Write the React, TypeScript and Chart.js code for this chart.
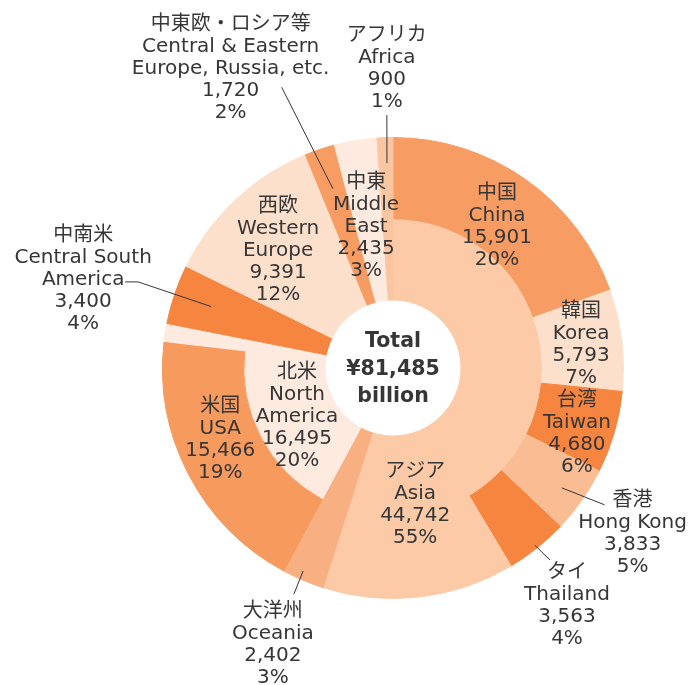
import React, { useEffect, useRef } from "react";
import { Chart, registerables } from "chart.js";

Chart.register(...registerables);

// Inner ring: regions (clockwise from 12 o'clock)
const regionJa = ["アジア", "大洋州", "北米", "中南米", "西欧", "中東欧・ロシア等", "中東", "アフリカ"];
const regionEn = [["Asia"], ["Oceania"], ["North", "America"], ["Central South", "America"], ["Western", "Europe"], ["Central & Eastern", "Europe, Russia, etc."], ["Middle", "East"], ["Africa"]];
const regionValues = [44742, 2402, 16495, 3400, 9391, 1720, 2435, 900];
const regionColors = ["#fccaa6", "#f8af82", "#feeadf", "#f5853f", "#fde0cc", "#f79c62", "#feeadf", "#fac6a2"];

// Outer ring: Asian countries
const asiaJa = ["中国", "韓国", "台湾", "香港", "タイ"];
const asiaEn = ["China", "Korea", "Taiwan", "Hong Kong", "Thailand"];
const asiaValues = [15901, 5793, 4680, 3833, 3563];
const asiaColors = ["#f79c62", "#fde0cc", "#f5853f", "#fabd93", "#f5853f"];

// Outer ring: North American country
const naJa = ["米国"];
const naEn = ["USA"];
const naValues = [15466];
const naColors = ["#f79a5e"];

const total = regionValues.reduce((a, b) => a + b, 0);
const fmt = (v: number) => v.toLocaleString("en-US");
const pct = (v: number) => Math.round((v / total) * 100) + "%";

// outer dataset: Asia countries + rest of Asia, Oceania, USA + rest of NA, then remaining regions
const otherAsia = regionValues[0] - asiaValues.reduce((a, b) => a + b, 0);
const otherNA = regionValues[2] - naValues.reduce((a, b) => a + b, 0);
const outerValues = [...asiaValues, otherAsia, regionValues[1], ...naValues, otherNA, ...regionValues.slice(3)];
const outerColors = [...asiaColors, regionColors[0], regionColors[1], ...naColors, regionColors[2], ...regionColors.slice(3)];

type Spec = {
  ds: number;
  idx: number;
  lines: string[];
  shift?: number;
  r?: number;
  leader?: { s1: number; r1: number; s2: number; r2: number; tail?: number; tx: number; ty: number };
};

const regionLines = (i: number) => [regionJa[i], ...regionEn[i], fmt(regionValues[i]), pct(regionValues[i])];
const asiaLines = (i: number) => [asiaJa[i], asiaEn[i], fmt(asiaValues[i]), pct(asiaValues[i])];
const naLines = (i: number) => [naJa[i], naEn[i], fmt(naValues[i]), pct(naValues[i])];

const specs: Spec[] = [
  { ds: 0, idx: 0, lines: asiaLines(0), shift: 1.2, r: 175.6 },
  { ds: 0, idx: 1, lines: asiaLines(1), shift: 0, r: 189.5 },
  { ds: 0, idx: 2, lines: asiaLines(2), shift: 3.6, r: 195.5 },
  { ds: 0, idx: 3, lines: asiaLines(3), leader: { s1: 0.4, r1: 207, s2: -2.1, r2: 252, tx: 28, ty: 29 } },
  { ds: 0, idx: 4, lines: asiaLines(4), leader: { s1: 0, r1: 227, s2: -0.6, r2: 248, tx: 17, ty: 46 } },
  { ds: 0, idx: 7, lines: naLines(0), shift: 5, r: 187 },
  { ds: 1, idx: 0, lines: regionLines(0), shift: 72, r: 139 },
  { ds: 1, idx: 1, lines: regionLines(1), leader: { s1: 0.9, r1: 222, s2: 0.7, r2: 247, tx: -21, ty: 51 } },
  { ds: 1, idx: 2, lines: regionLines(2), shift: -1.5, r: 107.6 },
  { ds: 1, idx: 3, lines: regionLines(3), leader: { s1: 0, r1: 192, s2: 0, r2: 269, tail: -13, tx: -42, ty: -2.5 } },
  { ds: 1, idx: 4, lines: regionLines(4), shift: -1.4, r: 164 },
  { ds: 1, idx: 5, lines: regionLines(5), leader: { s1: 0, r1: 189, s2: -3.1, r2: 302, tx: -51, ty: -18.5 } },
  { ds: 1, idx: 6, lines: regionLines(6), shift: -1.4, r: 144 },
  { ds: 1, idx: 7, lines: regionLines(7), leader: { s1: 0.3, r1: 205, s2: 0.6, r2: 253, tx: 0, ty: -46 } },
];

const centerLines = ["Total", "¥" + fmt(total), "billion"];

const FONT = '"DejaVu Sans", "Noto Sans CJK JP", sans-serif';
const TEXT = "#363636";
const LINE_H = 22;

const labelPlugin = {
  id: "labels",
  afterDatasetsDraw(chart: any) {
    const ctx = chart.ctx as CanvasRenderingContext2D;
    ctx.save();
    ctx.fillStyle = TEXT;
    ctx.strokeStyle = TEXT;
    ctx.lineWidth = 1;
    ctx.textAlign = "center";
    ctx.textBaseline = "middle";
    const rad = (d: number) => (d * Math.PI) / 180;
    let cx = 0, cy = 0;
    for (const s of specs) {
      const arc = chart.getDatasetMeta(s.ds).data[s.idx];
      const p = arc.getProps(["x", "y", "startAngle", "endAngle"], true);
      cx = p.x; cy = p.y;
      const mid = (p.startAngle + p.endAngle) / 2;
      let bx: number, by: number;
      if (s.leader) {
        const L = s.leader;
        const a1 = mid + rad(L.s1);
        const a2 = mid + rad(L.s2);
        const x1 = p.x + L.r1 * Math.cos(a1), y1 = p.y + L.r1 * Math.sin(a1);
        const x2 = p.x + L.r2 * Math.cos(a2), y2 = p.y + L.r2 * Math.sin(a2);
        ctx.beginPath();
        ctx.moveTo(x1, y1);
        ctx.lineTo(x2, y2);
        let ex = x2;
        if (L.tail) { ex = x2 + L.tail; ctx.lineTo(ex, y2); }
        ctx.stroke();
        bx = ex + L.tx; by = y2 + L.ty;
      } else {
        const a = mid + rad(s.shift || 0);
        bx = p.x + (s.r || 0) * Math.cos(a);
        by = p.y + (s.r || 0) * Math.sin(a);
      }
      ctx.font = `20px ${FONT}`;
      const n = s.lines.length;
      s.lines.forEach((t, i) => {
        ctx.fillText(t, bx, by + (i - (n - 1) / 2) * LINE_H);
      });
    }
    ctx.font = `bold 20.5px ${FONT}`;
    centerLines.forEach((t, i) => {
      ctx.fillText(t, cx, cy + 1.5 + (i - 1) * 27.5);
    });
    ctx.restore();
  },
};

export default function App() {
  const ref = useRef<HTMLCanvasElement>(null);
  useEffect(() => {
    const chart = new Chart(ref.current as HTMLCanvasElement, {
      type: "doughnut",
      data: {
        labels: outerValues.map((_, i) => String(i)),
        datasets: [
          { data: outerValues, backgroundColor: outerColors, borderColor: outerColors, borderWidth: 1, weight: 1 },
          { data: regionValues, backgroundColor: regionColors, borderColor: regionColors, borderWidth: 1, weight: 1 },
        ],
      },
      options: {
        responsive: false,
        animation: false,
        cutout: "29.5%",
        layout: { padding: { left: 162, right: 70, top: 137, bottom: 86 } },
        plugins: { legend: { display: false }, tooltip: { enabled: false } },
      },
      plugins: [labelPlugin],
    });
    return () => chart.destroy();
  }, []);
  return (
    <div style={{ position: "absolute", left: 0, top: 0, width: 694, height: 685, background: "#fff" }}>
      <canvas ref={ref} width={694} height={685} />
    </div>
  );
}
